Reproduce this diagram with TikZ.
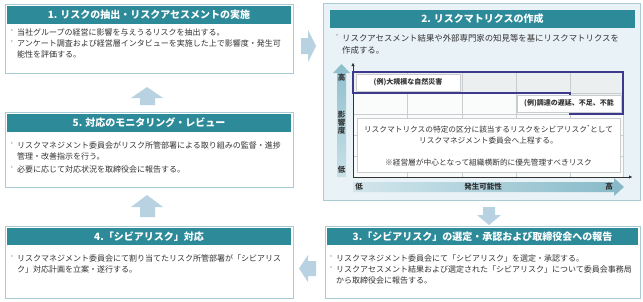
\documentclass[tikz,border=0pt]{standalone}
\usepackage{fontspec}
\setmainfont{Noto Sans CJK JP}
\usetikzlibrary{arrows.meta}
\definecolor{teal}{HTML}{2C8A99}
\definecolor{frame}{HTML}{A9CCD4}
\definecolor{arrowc}{HTML}{B9D2E1}
\definecolor{panel}{HTML}{E9F2F7}
\definecolor{gridc}{HTML}{C9CDD0}
\definecolor{cellc}{HTML}{FAFBFB}
\definecolor{hotc}{HTML}{ECEFF0}
\definecolor{purp}{HTML}{3D3A8E}
\definecolor{txt}{HTML}{333333}
\definecolor{bulc}{HTML}{9FB6BE}
\definecolor{vtop}{HTML}{8DBFCC}
\definecolor{vbot}{HTML}{C9E0E7}
\definecolor{hleft}{HTML}{D2E6EC}
\definecolor{hright}{HTML}{86B9C8}
\begin{document}
\begin{tikzpicture}[x=1pt,y=-1pt,
  outer/.style={draw=frame,line width=0.8pt,fill=white,inner sep=0pt},
  hdr/.style={fill=teal,text=white,font=\fontsize{10}{12}\selectfont\bfseries,inner sep=0pt,minimum height=18pt},
  body/.style={text=txt,font=\fontsize{8}{11}\selectfont,align=left,inner sep=0pt,anchor=north west},
  bul/.style={text=bulc,font=\fontsize{8}{11}\selectfont,inner sep=0pt,anchor=north},
  blk/.style={fill=arrowc,draw=none},
  lbl/.style={fill=white,draw=gridc,line width=0.5pt,text=txt,font=\fontsize{7}{9}\selectfont\bfseries,inner sep=0pt},
  mtx/.style={text=txt,font=\fontsize{7.7}{11}\selectfont,align=center,inner sep=0pt},
  axl/.style={text=txt,font=\fontsize{7.5}{9}\selectfont\bfseries,inner sep=0pt},
  axis/.style={draw=black!80,line width=0.4pt,-{Triangle[length=3pt,width=3pt]}}
]
\useasboundingbox (0,0) rectangle (643,301);
\fill[white] (0,0) rectangle (643,301);

% ---------- Box 1
\node[outer,minimum width=288pt,minimum height=69pt] (b1) at (149,38.5) {};
\node[hdr,minimum width=284pt] (h1) at (149,15) {1. リスクの抽出・リスクアセスメントの実施};
\node[bul] (b1d1) at (12,29) {・};
\node[body] (b1t1) at (17,29) {当社グループの経営に影響を与えうるリスクを抽出する。};
\node[bul] (b1d2) at (12,40) {・};
\node[body] (b1t2) at (17,40) {アンケート調査および経営層インタビューを実施した上で影響度・発生可\\能性を評価する。};

% ---------- Box 2
\node[outer,fill=panel,minimum width=317pt,minimum height=197pt] (b2) at (481.5,101.5) {};
\node[hdr,minimum width=305pt] (h2) at (482.5,19) {2. リスクマトリクスの作成};
\node[bul,font=\fontsize{8.4}{12}\selectfont] (b2d1) at (337,34) {・};
\node[body,font=\fontsize{8.4}{12}\selectfont] (b2t1) at (342,34) {リスクアセスメント結果や外部専門家の知見等を基にリスクマトリクスを\\作成する。};

% matrix grid
\fill[cellc] (353,72) rectangle (623,177);
\fill[hotc] (353,72) -- (623,72) -- (623,114) -- (570,114) -- (570,93) -- (353,93) -- cycle;
\foreach \xx in {407,462,516,570,623} \draw[gridc,line width=0.5pt] (\xx,72) -- (\xx,177);
\foreach \yy in {72,93,114,135,156} \draw[gridc,line width=0.5pt] (353,\yy) -- (623,\yy);
\draw[axis] (353,177) -- (353,63);
\draw[axis] (353,177) -- (632,177);
\draw[purp,line width=1.4pt] (353,72) -- (623,72) -- (623,114) -- (570,114) -- (570,93) -- (353,93) -- cycle;

\node[lbl,minimum width=104pt,minimum height=17pt] (ex1) at (408,82.5) {(例)大規模な自然災害};
\node[lbl,minimum width=104pt,minimum height=17pt] (ex2) at (569,103.5) {(例)調達の遅延、不足、不能};
\node[fill=white,draw=gridc,line width=0.5pt,minimum width=263pt,minimum height=54pt,inner sep=0pt] (mbox) at (488.5,145) {};
\node[mtx] (m1) at (488.5,129) {リスクマトリクスの特定の区分に該当するリスクをシビアリスク\textsuperscript{*}として};
\node[mtx] (m2) at (488.5,141) {リスクマネジメント委員会へ上程する。};
\node[mtx] (m3) at (488.5,163) {※経営層が中心となって組織横断的に優先管理すべきリスク};

% vertical axis arrow
\shade[top color=vtop,bottom color=vbot] (337,177) -- (337,73) -- (333,73) -- (341.5,64) -- (350,73) -- (346,73) -- (346,177) -- cycle;
\node[axl] (yh) at (341.5,78) {高};
\node[axl,align=center,font=\fontsize{7.5}{8}\selectfont\bfseries] (ym) at (341.5,123) {影\\響\\度};
\node[axl] (yl) at (341.5,170) {低};
% horizontal axis arrow
\shade[left color=hleft,right color=hright] (353,182) -- (614,182) -- (614,178) -- (624,187) -- (614,196) -- (614,192) -- (353,192) -- cycle;
\node[axl] (xl) at (359,187) {低};
\node[axl] (xm) at (483,187) {発生可能性};
\node[axl] (xh) at (609,187) {高};

% ---------- Box 3
\node[outer,minimum width=315pt,minimum height=72pt] (b3) at (482.5,262) {};
\node[hdr,minimum width=311pt,minimum height=17pt] (h3) at (482.5,236.5) {3.「シビアリスク」の選定・承認および取締役会への報告};
\node[bul] (b3d1) at (331,255) {・};
\node[body] (b3t1) at (336,255) {リスクマネジメント委員会にて「シビアリスク」を選定・承認する。};
\node[bul] (b3d2) at (331,266) {・};
\node[body] (b3t2) at (336,266) {リスクアセスメント結果および選定された「シビアリスク」について委員会事務局\\から取締役会に報告する。};

% ---------- Box 4
\node[outer,minimum width=288pt,minimum height=72pt] (b4) at (149,262) {};
\node[hdr,minimum width=284pt,minimum height=17pt] (h4) at (149,236.5) {4.「シビアリスク」対応};
\node[bul] (b4d1) at (12,255) {・};
\node[body] (b4t1) at (17,255) {リスクマネジメント委員会にて割り当てたリスク所管部署が「シビアリス\\ク」対応計画を立案・遂行する。};

% ---------- Box 5
\node[outer,minimum width=288pt,minimum height=75pt] (b5) at (149,149.5) {};
\node[hdr,minimum width=284pt] (h5) at (149,123) {5. 対応のモニタリング・レビュー};
\node[bul] (b5d1) at (12,142) {・};
\node[body] (b5t1) at (17,142) {リスクマネジメント委員会がリスク所管部署による取り組みの監督・進捗\\管理・改善指示を行う。};
\node[bul] (b5d2) at (12,166) {・};
\node[body] (b5t2) at (17,166) {必要に応じて対応状況を取締役会に報告する。};

% ---------- block arrows
\fill[blk] (301,38) -- (308,38) -- (308,30) -- (316,46) -- (308,62) -- (308,54) -- (301,54) -- cycle; % 1 -> 2
\fill[blk] (483,207) -- (495,207) -- (495,215) -- (501,215) -- (489,225) -- (477,215) -- (483,215) -- cycle; % 2 -> 3
\fill[blk] (316,261) -- (308,261) -- (308,255) -- (299,268.5) -- (308,282) -- (308,276) -- (316,276) -- cycle; % 3 -> 4
\fill[blk] (140,217) -- (140,207) -- (131,207) -- (147,195) -- (163,207) -- (155,207) -- (155,217) -- cycle; % 4 -> 5
\fill[blk] (140,105) -- (140,98) -- (131,98) -- (147,87) -- (163,98) -- (155,98) -- (155,105) -- cycle; % 5 -> 1
\end{tikzpicture}
\end{document}
